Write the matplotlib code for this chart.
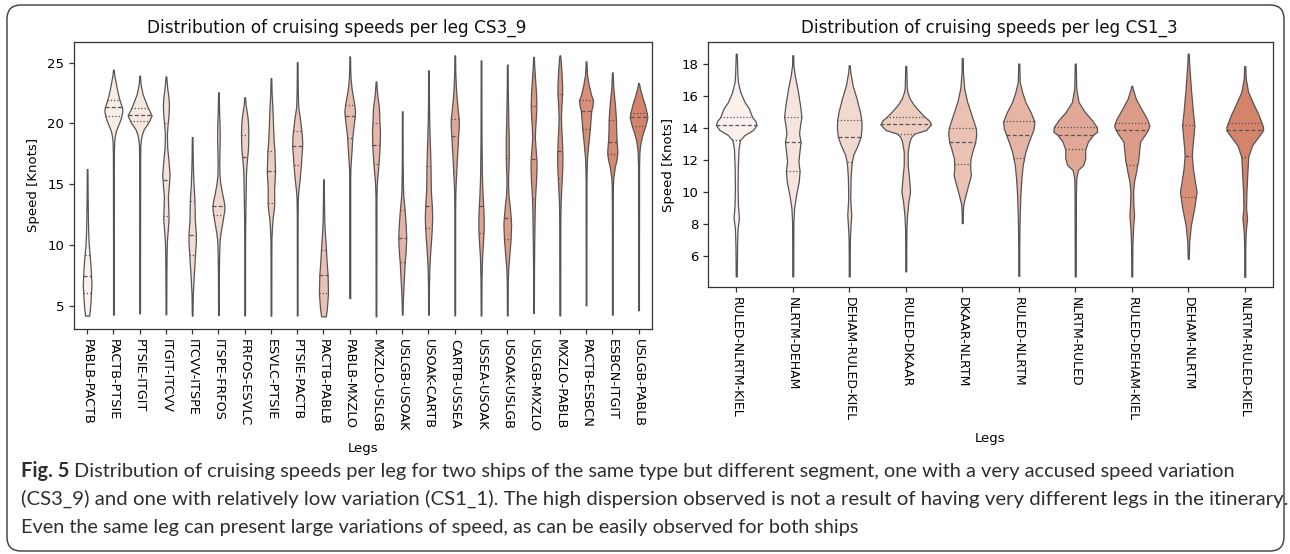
import numpy as np
import matplotlib
matplotlib.use("Agg")
import matplotlib.pyplot as plt
from matplotlib.patches import FancyBboxPatch
import matplotlib.colors as mcolors

# ---------------- data: CS3_9 ----------------
legs_cs3_9 = ["PABLB-PACTB", "PACTB-PTSIE", "PTSIE-ITGIT", "ITGIT-ITCVV", "ITCVV-ITSPE",
              "ITSPE-FRFOS", "FRFOS-ESVLC", "ESVLC-PTSIE", "PTSIE-PACTB", "PACTB-PABLB",
              "PABLB-MXZLO", "MXZLO-USLGB", "USLGB-USOAK", "USOAK-CARTB", "CARTB-USSEA",
              "USSEA-USOAK", "USOAK-USLGB", "USLGB-MXZLO", "MXZLO-PABLB", "PACTB-ESBCN",
              "ESBCN-ITGIT", "USLGB-PABLB"]

# speed levels (knots) at which the violin density was read, top to bottom
speed_cs3_9 = [
    [16.25, 14.0, 12.0, 10.8, 10.0, 9.2, 8.4, 7.4, 6.7, 6.0, 5.2, 4.6, 4.18],
    [24.42, 23.9, 23.5, 22.9, 22.4, 21.95, 21.3, 21.0, 20.6, 20.17, 19.7, 19.35, 18.9, 18.5, 17.5, 10.0, 4.26],
    [23.93, 23.3, 22.9, 22.4, 21.9, 21.27, 20.67, 20.23, 19.9, 19.5, 19.1, 18.7, 18.2, 17.0, 4.37],
    [23.87, 22.9, 22.1, 21.5, 20.7, 19.9, 19.07, 17.98, 16.88, 15.78, 14.96, 14.0, 13.04, 12.2, 11.4, 10.3, 9.2, 7.8, 4.29],
    [18.88, 17.5, 16.1, 15.0, 14.1, 13.6, 12.8, 12.0, 11.3, 10.84, 10.2, 9.2, 8.4, 7.6, 6.8, 6.0, 5.2, 4.18],
    [22.56, 21.0, 19.8, 18.8, 17.7, 16.6, 15.8, 15.2, 14.7, 14.1, 13.6, 13.17, 12.8, 12.43, 11.9, 11.1, 10.5, 10.0, 9.0, 8.0, 4.23],
    [22.15, 21.5, 21.0, 20.4, 19.8, 19.07, 18.3, 17.6, 17.24, 16.6, 15.9, 15.2, 14.4, 13.6, 12.6, 11.4, 10.0, 4.2],
    [23.74, 22.5, 21.5, 20.5, 19.6, 18.7, 17.7, 16.9, 16.06, 15.3, 14.6, 13.45, 12.8, 12.2, 11.4, 10.5, 9.0, 4.18],
    [25.05, 23.0, 21.8, 21.27, 20.45, 19.4, 18.8, 18.1, 17.4, 16.55, 16.06, 15.3, 14.6, 13.9, 12.5, 4.2],
    [15.4, 13.5, 12.0, 11.1, 10.3, 9.6, 8.6, 7.5, 6.7, 6.04, 5.4, 4.7, 4.12],
    [25.52, 24.5, 23.74, 23.0, 22.3, 21.5, 21.0, 20.6, 19.9, 19.2, 18.8, 18.0, 17.15, 16.3, 15.5, 5.63],
    [23.46, 22.6, 22.1, 21.5, 21.0, 20.03, 19.3, 18.2, 17.4, 16.66, 16.0, 15.4, 14.9, 14.0, 4.12],
    [21.0, 17.0, 15.0, 14.1, 13.5, 12.9, 12.0, 11.3, 10.6, 9.9, 9.2, 8.6, 7.8, 7.0, 6.2, 5.1, 4.26],
    [24.37, 22.0, 20.45, 18.8, 17.6, 16.47, 15.5, 14.5, 13.6, 13.23, 12.2, 11.39, 10.5, 9.75, 8.9, 8.0, 6.5, 4.26],
    [25.6, 24.3, 23.19, 22.3, 21.54, 20.34, 19.7, 18.94, 18.25, 17.4, 16.6, 15.97, 15.2, 14.3, 13.0, 4.2],
    [25.19, 21.0, 18.5, 17.24, 16.0, 14.96, 14.0, 13.23, 12.2, 11.5, 10.98, 10.0, 9.2, 8.4, 7.2, 4.18],
    [24.84, 22.9, 21.3, 20.17, 19.3, 18.5, 17.15, 16.3, 15.5, 14.8, 14.0, 13.3, 12.19, 11.67, 10.5, 9.47, 8.6, 8.1, 7.0, 4.2],
    [25.47, 24.8, 23.5, 22.5, 21.4, 20.45, 19.6, 18.8, 18.0, 17.1, 16.33, 15.5, 14.6, 13.8, 12.8, 11.9, 10.0, 8.0, 4.4],
    [25.6, 25.4, 24.3, 23.2, 22.42, 21.8, 20.9, 20.45, 19.6, 18.8, 17.76, 17.15, 16.4, 15.5, 14.4, 13.5, 12.76, 11.5, 4.2],
    [25.11, 24.0, 23.19, 22.37, 21.9, 21.4, 21.02, 20.17, 19.54, 18.9, 18.25, 17.6, 17.15, 16.3, 15.0, 5.03],
    [24.2, 22.9, 21.54, 20.31, 19.35, 18.5, 17.84, 17.48, 17.0, 16.33, 15.5, 14.8, 13.0, 4.26],
    [23.33, 22.9, 22.1, 21.5, 20.86, 20.5, 20.1, 19.76, 19.3, 18.8, 18.25, 17.6, 16.5, 4.62],
]
# relative density at those levels
density_cs3_9 = [
    [1, 1.5, 2.5, 3.5, 5, 7.5, 10, 12, 13, 11.5, 10, 8, 6],
    [1, 3, 6, 10, 14, 18, 26, 27, 24, 19, 12, 7, 4, 2.5, 1.5, 1, 1],
    [1, 2.5, 5, 9, 16, 25, 36, 29, 22, 12, 7, 4, 2, 1.5, 1],
    [1, 4, 8, 9, 8, 5, 3, 4, 8, 11, 9, 6, 7, 8, 6, 3, 2, 1.5, 1],
    [1, 1.5, 2.5, 4, 6, 7, 7.5, 8, 10, 11, 11, 8.5, 7, 5, 3.5, 2, 1.5, 1],
    [1, 2, 3.5, 4, 3, 2.5, 3, 5, 8, 12, 16, 18, 17.5, 15, 12, 7, 4, 3, 2, 1.5, 1],
    [1, 3, 6, 9, 10.5, 11, 10.5, 9, 7.5, 5.5, 4, 3.5, 3, 2.5, 2, 1.5, 1.2, 1],
    [1, 2, 4, 5.5, 6.5, 8, 10.5, 11.5, 12.5, 11, 9.5, 10, 8, 5, 3, 1.5, 1.2, 1],
    [1, 1.5, 2.5, 3.5, 8, 12.5, 14.5, 15, 13, 11, 9.5, 7, 4, 2, 1.2, 1],
    [1, 1.5, 2.5, 4, 6, 7.5, 9.5, 12.5, 13, 13.5, 12, 10, 7],
    [1, 1.5, 2.5, 5, 9, 14, 16, 15, 12, 9, 7.5, 6, 4, 2, 1.5, 1.5],
    [1, 3, 5, 8, 9.5, 10.5, 12, 11, 9.5, 7.5, 5.5, 3.5, 2.5, 1.5, 1],
    [1, 1.2, 2, 3, 5, 7, 9.5, 11, 12, 11, 9.5, 7.5, 6, 4.5, 3, 1.5, 1],
    [1, 1.3, 2, 3.5, 5, 6, 6.5, 7, 9, 10, 11, 10, 8, 6, 4, 2.5, 1.3, 1],
    [1, 1.5, 3, 5, 7.5, 12, 12, 10, 9, 7, 5.5, 4.5, 3, 1.8, 1.2, 1],
    [1, 1.2, 1.5, 2, 2.5, 3.5, 5, 6.5, 8, 8, 7.5, 5.5, 3.5, 2.5, 1.5, 1],
    [1, 1.5, 2.5, 3, 4, 4.5, 4.5, 3.5, 2.5, 2.5, 4, 7, 10.5, 11.5, 10, 7, 4.5, 3, 1.5, 1],
    [1, 2, 5, 7.5, 8.5, 7, 5, 4, 6, 8.5, 9, 8, 6, 4.5, 3.5, 3, 2, 1.3, 1],
    [1, 2, 5, 7, 7, 5.5, 4, 3.5, 4.5, 6, 7.5, 8, 7.5, 6, 4, 2.5, 2, 1.5, 1.3],
    [1, 3, 8, 15, 21, 19, 15.5, 13, 11.5, 9, 6.5, 4.5, 3, 1.8, 1.2, 1],
    [1, 3, 8, 11, 11.5, 13, 15, 15, 12.5, 7, 3, 1.8, 1.2, 1],
    [1, 4, 12, 19, 24.5, 26.5, 23, 20, 14, 9, 5, 2.5, 1.5, 1],
]
# upper quartile, median, lower quartile
quartiles_cs3_9 = [
    [9.20, 7.41, 6.01], [21.95, 21.32, 20.58], [21.27, 20.67, 20.23], [20.0, 15.37, 12.35],
    [13.59, 10.84, 9.2], [17.0, 13.17, 12.43], [19.07, 17.24, 13.6], [17.7, 16.06, 13.45],
    [19.4, 18.1, 16.55], [9.6, 7.5, 6.04], [21.49, 20.61, 18.8], [20.03, 18.2, 16.66],
    [12.9, 10.6, 8.6], [16.47, 13.23, 11.39], [20.34, 18.94, 15.97], [17.24, 13.23, 10.98],
    [17.15, 12.19, 10.5], [21.4, 17.1, 13.8], [22.42, 17.76, 15.5], [21.9, 21.02, 19.54],
    [20.31, 18.5, 17.48], [20.86, 20.5, 19.76],
]

# ---------------- data: CS1_3 ----------------
legs_cs1_3 = ["RULED-NLRTM-KIEL", "NLRTM-DEHAM", "DEHAM-RULED-KIEL", "RULED-DKAAR",
              "DKAAR-NLRTM", "RULED-NLRTM", "NLRTM-RULED", "RULED-DEHAM-KIEL",
              "DEHAM-NLRTM", "NLRTM-RULED-KIEL"]
speed_cs1_3 = [
    [18.62, 17.27, 16.86, 16.24, 15.6, 15.2, 14.66, 14.4, 14.16, 13.85, 13.54, 13.23, 12.7, 11.67, 10.4, 9.18, 8.35, 7.72, 6.7, 5.7, 4.71],
    [18.52, 17.9, 17.27, 16.44, 15.4, 14.68, 14.16, 13.64, 13.1, 12.5, 11.88, 11.32, 10.63, 9.8, 8.97, 8.14, 6.5, 4.71],
    [17.9, 17.48, 16.65, 15.82, 15.0, 14.45, 13.95, 13.41, 12.9, 12.3, 11.88, 11.5, 10.84, 9.6, 8.55, 7.93, 7.1, 6.0, 4.71],
    [17.85, 16.5, 16.24, 15.82, 15.4, 15.0, 14.66, 14.45, 14.2, 13.85, 13.62, 13.4, 13.12, 12.5, 11.67, 10.84, 10.0, 9.38, 8.55, 7.72, 6.5, 5.03],
    [18.35, 17.48, 16.44, 15.6, 14.78, 13.95, 13.6, 13.08, 12.7, 12.08, 11.71, 11.46, 11.04, 10.42, 9.8, 9.18, 8.55, 8.04],
    [18.0, 16.86, 16.24, 15.6, 15.0, 14.39, 13.95, 13.56, 13.12, 12.5, 12.08, 11.67, 10.84, 9.8, 8.55, 7.5, 6.5, 4.75],
    [18.0, 16.44, 15.6, 15.0, 14.47, 14.06, 13.75, 13.54, 13.12, 12.64, 12.08, 11.67, 11.36, 10.84, 9.8, 4.71],
    [16.61, 16.44, 15.82, 15.2, 14.57, 14.32, 14.12, 13.85, 13.64, 13.12, 12.5, 11.88, 11.67, 11.25, 10.63, 10.0, 9.18, 8.55, 7.72, 6.7, 5.5, 4.71],
    [18.62, 17.9, 16.44, 15.0, 14.16, 13.33, 12.7, 12.21, 11.46, 10.63, 10.0, 9.7, 8.97, 7.93, 6.9, 5.81],
    [17.85, 17.07, 16.24, 15.4, 14.78, 14.28, 14.06, 13.83, 13.54, 12.9, 12.19, 11.25, 10.0, 8.97, 8.35, 7.5, 6.5, 4.69],
]
density_cs1_3 = [
    [1.5, 3.5, 5, 12, 25, 38, 48, 58, 61, 50, 25, 11.5, 7, 5, 4, 5, 8, 4, 2.5, 2, 1.5],
    [1.5, 2, 6, 14, 22, 26, 22, 19, 23.5, 20, 17, 20.5, 18, 10, 4, 2, 1.5, 1.5],
    [1.5, 3, 10, 22, 32, 36.5, 37, 34, 25, 12, 8, 6, 4, 3, 6, 4, 2, 1.5, 1.5],
    [1.5, 3, 5, 12, 25, 42, 58, 70, 76, 60, 25, 16, 11, 6, 6, 10, 13, 8, 4, 2, 1.5, 1.5],
    [1.5, 2, 6, 15, 28, 41, 42, 39, 33, 25, 24, 24, 26, 18, 10, 3, 1.5, 1.5],
    [1.5, 3, 10, 20, 35, 47, 45, 38, 30, 20, 16, 12, 8, 5, 3, 2, 1.5, 1.5],
    [1.5, 3, 10, 28, 50, 64, 66, 53, 38, 30, 30, 24, 8, 3, 2, 1.5],
    [1.5, 3, 12, 28, 45, 50, 53, 48, 42, 25, 22, 19, 16.5, 13, 7, 4, 5, 7, 4, 2, 1.5, 1.5],
    [1.5, 3, 8, 14, 18.5, 15, 12, 11, 14, 20, 25, 23, 18, 8, 3, 1.5],
    [1.5, 3, 10, 28, 42, 51, 55, 55, 45, 22, 10.5, 8, 5, 4, 7, 3, 1.5, 1.5],
]
quartiles_cs1_3 = [
    [14.66, 14.16, 13.23], [14.68, 13.1, 11.32], [14.45, 13.41, 11.88], [14.66, 14.2, 13.62],
    [13.95, 13.08, 11.71], [14.39, 13.56, 12.08], [14.06, 13.54, 12.64], [14.32, 13.85, 11.67],
    [14.16, 12.21, 9.7], [14.28, 13.83, 12.19],
]

caption_lines = [
    ("Fig. 5", "Distribution of cruising speeds per leg for two ships of the same type but different segment, one with a very accused speed variation"),
    ("", "(CS3_9) and one with relatively low variation (CS1_1). The high dispersion observed is not a result of having very different legs in the itinerary."),
    ("", "Even the same leg can present large variations of speed, as can be easily observed for both ships"),
]

# ---------------- style ----------------
W, H = 1290, 554
EDGE = "#555555"
C0 = np.array(mcolors.to_rgb("#faf1ec"))
C1 = np.array(mcolors.to_rgb("#d5846c"))
plt.rcParams["font.family"] = ["DejaVu Sans"]

fig = plt.figure(figsize=(W / 100, H / 100), dpi=100)
bg = fig.add_axes([0, 0, 1, 1], zorder=-1)
bg.set_xlim(0, W)
bg.set_ylim(H, 0)
bg.axis("off")
bg.add_patch(FancyBboxPatch((7, 5), 1277, 546, boxstyle="round,pad=0,rounding_size=14",
                            fc="white", ec="#3a3a3a", lw=1.0))


def palette(n):
    return [tuple(C0 + (C1 - C0) * k / (n - 1)) for k in range(n)]


def draw_violins(ax, speeds, dens, quarts, scale):
    cols = palette(len(speeds))
    for i, (y, d, q) in enumerate(zip(speeds, dens, quarts)):
        y = np.asarray(y, float)
        hw = np.asarray(d, float) / scale
        ax.fill_betweenx(y, i - hw, i + hw, facecolor=cols[i], edgecolor=EDGE,
                         lw=0.9, zorder=2)
        order = np.argsort(y)
        for k, qv in enumerate(q):
            w = np.interp(qv, y[order], hw[order])
            ls = (0, (3.2, 1.8)) if k == 1 else (0, (1.0, 1.6))
            ax.plot([i - w, i + w], [qv, qv], color=EDGE, lw=0.9, ls=ls, zorder=3,
                    solid_capstyle="butt", dash_capstyle="butt")


def style_axes(ax, labels, fs_x):
    ax.set_xticks(range(len(labels)))
    ax.set_xticklabels(labels, rotation=270, fontsize=fs_x, ha="center", va="top")
    ax.tick_params(axis="y", labelsize=9.5)
    ax.tick_params(length=3.5, width=0.9, color="#333333")
    for s in ax.spines.values():
        s.set_color("#333333")
        s.set_linewidth(0.9)


# left panel
axL = fig.add_axes([74 / W, 1 - 329 / H, 577.7 / W, 287 / H])
draw_violins(axL, speed_cs3_9, density_cs3_9, quartiles_cs3_9, 78.8)
axL.set_xlim(-0.5, len(legs_cs3_9) - 0.5)
axL.set_ylim(3.08, 26.70)
axL.set_yticks([5, 10, 15, 20, 25])
style_axes(axL, legs_cs3_9, 9.2)
axL.set_ylabel("Speed [Knots]", fontsize=9.5)
axL.set_xlabel("Legs", fontsize=9.5)
axL.yaxis.set_label_coords(-0.059, 0.5)
axL.xaxis.set_label_coords(0.5, -0.394)

# right panel
axR = fig.add_axes([708 / W, 1 - 287 / H, 565 / W, 245 / H])
draw_violins(axR, speed_cs1_3, density_cs1_3, quartiles_cs1_3, 169.8)
axR.set_xlim(-0.5, len(legs_cs1_3) - 0.5)
axR.set_ylim(4.05, 19.35)
axR.set_yticks([6, 8, 10, 12, 14, 16, 18])
style_axes(axR, legs_cs1_3, 9.0)
axR.set_ylabel("Speed [Knots]", fontsize=9.5)
axR.set_xlabel("Legs", fontsize=9.5)
axR.yaxis.set_label_coords(-0.0584, 0.5)
axR.xaxis.set_label_coords(0.5, -0.592)

renderer = fig.canvas.get_renderer()


def fit(t, width_px):
    w = t.get_window_extent(renderer).width
    t.set_fontsize(t.get_fontsize() * width_px / w)


tL = bg.text(337, 28, "Distribution of cruising speeds per leg CS3_9", ha="center",
             va="center", fontsize=10.5, color="#111111")
tR = bg.text(989, 28, "Distribution of cruising speeds per leg CS1_3", ha="center",
             va="center", fontsize=10.5, color="#111111")
fit(tL, 382)
fit(tR, 378)

# caption: each line fitted to its right edge in the reference
cap_font = ["Lato", "DejaVu Sans"]
cap_color = "#2e2e2e"
x0 = 21
baselines = [477, 505, 533]
right_edges = [1232, 1281, 858]


def caption_line(bold, rest, yb, fs):
    arts = []
    x = x0
    if bold:
        tb = bg.text(x, yb, bold, family=cap_font, fontsize=fs, fontweight="bold",
                     va="baseline", ha="left", color=cap_color)
        arts.append(tb)
        x += tb.get_window_extent(renderer).width + fs * 100 / 72 * 0.25
    tr = bg.text(x, yb, rest, family=cap_font, fontsize=fs, va="baseline", ha="left",
                 color=cap_color)
    arts.append(tr)
    return arts


for (bold, rest), yb, xr in zip(caption_lines, baselines, right_edges):
    arts = caption_line(bold, rest, yb, 12)
    right = arts[-1].get_window_extent(renderer).x1
    for a in arts:
        a.remove()
    fs = 12 * (xr - x0) / (right - x0)
    caption_line(bold, rest, yb, fs)

fig.savefig("out.png", dpi=100)
